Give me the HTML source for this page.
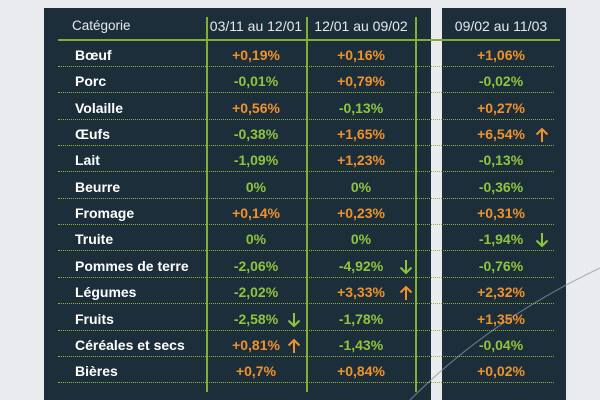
<!DOCTYPE html><html><head><meta charset="utf-8"><style>
body{margin:0;width:600px;height:400px;background:#e9ebee;position:relative;overflow:hidden;font-family:"Liberation Sans",sans-serif}
.p{position:absolute;background:#1c2e3a}
.a{position:absolute}
.h{color:#e6e9ec;font-size:13.5px}
.l{color:#fff;font-weight:bold;font-size:14px;left:75px}
.v{font-weight:bold;font-size:14px;width:100px;text-align:center}
.o{color:#f0922b}.g{color:#8fc53d}
.d{position:absolute;left:58px;width:496px;height:0;border-top:1px dotted #8fb53a}
.vl{position:absolute;top:17px;height:375px;width:2px;background:#7fb034}
</style></head><body>
<div class="p" style="left:44px;top:8px;width:387px;height:392px"></div>
<div class="p" style="left:442px;top:8px;width:124px;height:392px"></div>
<svg class="a" style="left:0;top:0" width="600" height="400"><path d="M410 400 Q490 320 600 268" stroke="#8a98a3" stroke-width="1.2" fill="none" opacity=".7"/></svg>
<div class="a" style="left:58px;top:39px;width:502px;height:2px;background:#7fb034"></div>
<div class="vl" style="left:206px"></div><div class="vl" style="left:306px"></div><div class="vl" style="left:415px"></div>
<div class="a h" style="left:72px;top:18px">Catégorie</div>
<div class="a h v" style="left:206px;top:18px;font-weight:normal">03/11 au 12/01</div>
<div class="a h v" style="left:311px;top:18px;font-weight:normal">12/01 au 09/02</div>
<div class="a h v" style="left:451px;top:18px;font-weight:normal">09/02 au 11/03</div>
<div id="rows"></div>
<script>
var d=[["Bœuf","+0,19%","+0,16%","+1,06%"],["Porc","-0,01%","+0,79%","-0,02%"],["Volaille","+0,56%","-0,13%","+0,27%"],["Œufs","-0,38%","+1,65%","+6,54%"],["Lait","-1,09%","+1,23%","-0,13%"],["Beurre","0%","0%","-0,36%"],["Fromage","+0,14%","+0,23%","+0,31%"],["Truite","0%","0%","-1,94%"],["Pommes de terre","-2,06%","-4,92%","-0,76%"],["Légumes","-2,02%","+3,33%","+2,32%"],["Fruits","-2,58%","-1,78%","+1,35%"],["Céréales et secs","+0,81%","-1,43%","-0,04%"],["Bières","+0,7%","+0,84%","+0,02%"]];
var ar={"3,3":["u","#f0922b"],"7,3":["d","#8fc53d"],"8,2":["d","#8fc53d"],"9,2":["u","#f0922b"],"10,1":["d","#8fc53d"],"11,1":["u","#f0922b"]};
var h="",xs=[206,311,451],axs=[287,399,535];
d.forEach(function(r,i){var t=47+i*26.35;
h+='<div class="a l" style="top:'+t+'px">'+r[0]+'</div>';
for(var j=1;j<4;j++){var c=(r[j][0]=="+")?"o":"g";h+='<div class="a v '+c+'" style="left:'+xs[j-1]+'px;top:'+t+'px">'+r[j]+'</div>';
var k=i+","+j;if(ar[k]){var p=ar[k][0]=="u"?"M7 2V15M1.5 7.5L7 2L12.5 7.5":"M7 1V14M1.5 8.5L7 14L12.5 8.5";
h+='<svg class="a" style="left:'+axs[j-1]+'px;top:'+(t+1)+'px" width="14" height="16"><path d="'+p+'" stroke="'+ar[k][1]+'" stroke-width="2" fill="none"/></svg>';}}
h+='<div class="d" style="top:'+(66+i*26.35)+'px"></div>';});
document.getElementById("rows").innerHTML=h;
</script>
</body></html>
